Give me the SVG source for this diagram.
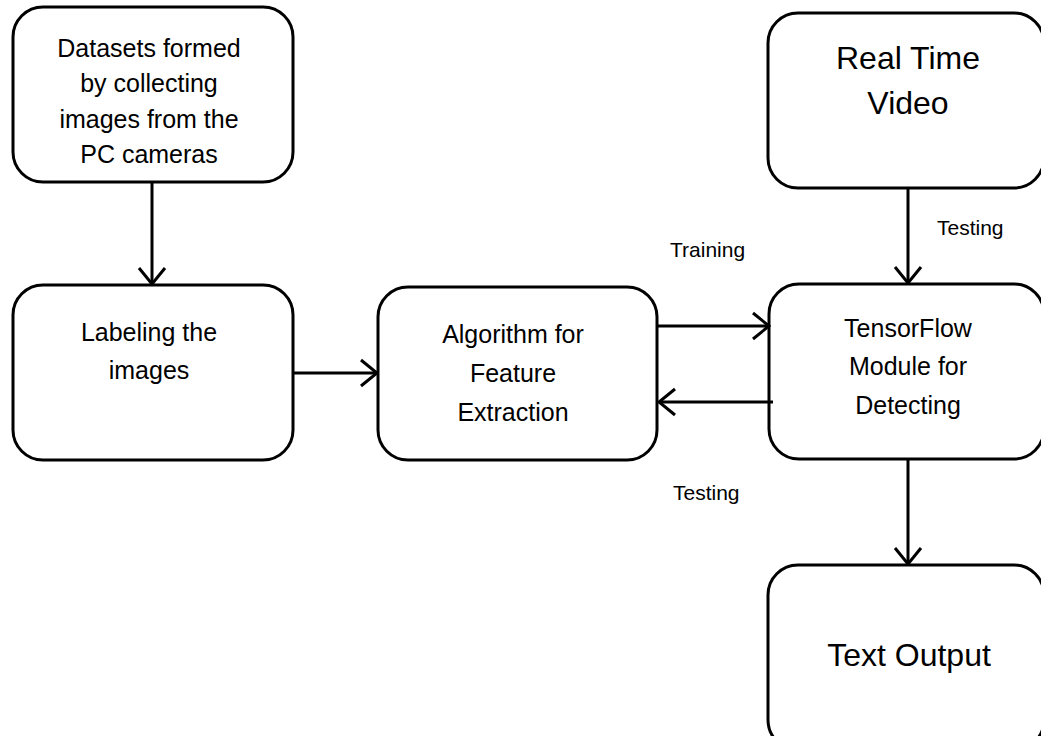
<svg xmlns="http://www.w3.org/2000/svg" width="1041" height="736" viewBox="0 0 1041 736">
<style>
.box{fill:#fff;stroke:#000;stroke-width:3}
.t{font-family:"Liberation Sans",Arial,sans-serif;font-size:25px;fill:#000;text-anchor:middle}
.big{font-size:32px}
.lbl{font-family:"Liberation Sans",Arial,sans-serif;font-size:21px;fill:#000}
.c{fill:none;stroke:#000;stroke-width:3}
</style>
<defs>
<marker id="ah" markerUnits="userSpaceOnUse" viewBox="0 0 20 30" refX="18" refY="15" markerWidth="20" markerHeight="30" orient="auto">
<path d="M2,2 L18,15 L2,28" fill="none" stroke="#000" stroke-width="3"/>
</marker>
</defs>
<rect width="1041" height="736" fill="#fff"/>
<g id="n-datasets">
<rect class="box" x="13" y="7" width="280" height="175" rx="30"/>
<text class="t" x="149" y="57">Datasets formed</text>
<text class="t" x="149" y="92">by collecting</text>
<text class="t" x="149" y="128">images from the</text>
<text class="t" x="149" y="163">PC cameras</text>
</g>
<g id="n-labeling">
<rect class="box" x="13" y="285" width="280" height="175" rx="30"/>
<text class="t" x="149" y="341">Labeling the</text>
<text class="t" x="149" y="379">images</text>
</g>
<g id="n-algorithm">
<rect class="box" x="378" y="287" width="279" height="173" rx="30"/>
<text class="t" x="513" y="343">Algorithm for</text>
<text class="t" x="513" y="382">Feature</text>
<text class="t" x="513" y="421">Extraction</text>
</g>
<g id="n-video">
<rect class="box" x="768" y="13" width="276" height="175" rx="30"/>
<text class="t big" x="908" y="69">Real Time</text>
<text class="t big" x="908" y="114">Video</text>
</g>
<g id="n-tensorflow">
<rect class="box" x="769" y="284" width="275" height="175" rx="30"/>
<text class="t" x="908" y="337">TensorFlow</text>
<text class="t" x="908" y="375">Module for</text>
<text class="t" x="908" y="414">Detecting</text>
</g>
<g id="n-output">
<rect class="box" x="768" y="565" width="276" height="185" rx="30"/>
<text class="t big" x="909" y="666">Text Output</text>
</g>
<g id="connectors">
<line class="c" x1="152" y1="182" x2="152" y2="284" marker-end="url(#ah)"/>
<line class="c" x1="293" y1="373" x2="377" y2="373" marker-end="url(#ah)"/>
<line class="c" x1="657" y1="326" x2="769" y2="326" marker-end="url(#ah)"/>
<line class="c" x1="773" y1="402" x2="659" y2="402" marker-end="url(#ah)"/>
<line class="c" x1="908" y1="188" x2="908" y2="283" marker-end="url(#ah)"/>
<line class="c" x1="908" y1="459" x2="908" y2="564" marker-end="url(#ah)"/>
<text class="lbl" x="670" y="257">Training</text>
<text class="lbl" x="937" y="235">Testing</text>
<text class="lbl" x="673" y="500">Testing</text>
</g>
</svg>
